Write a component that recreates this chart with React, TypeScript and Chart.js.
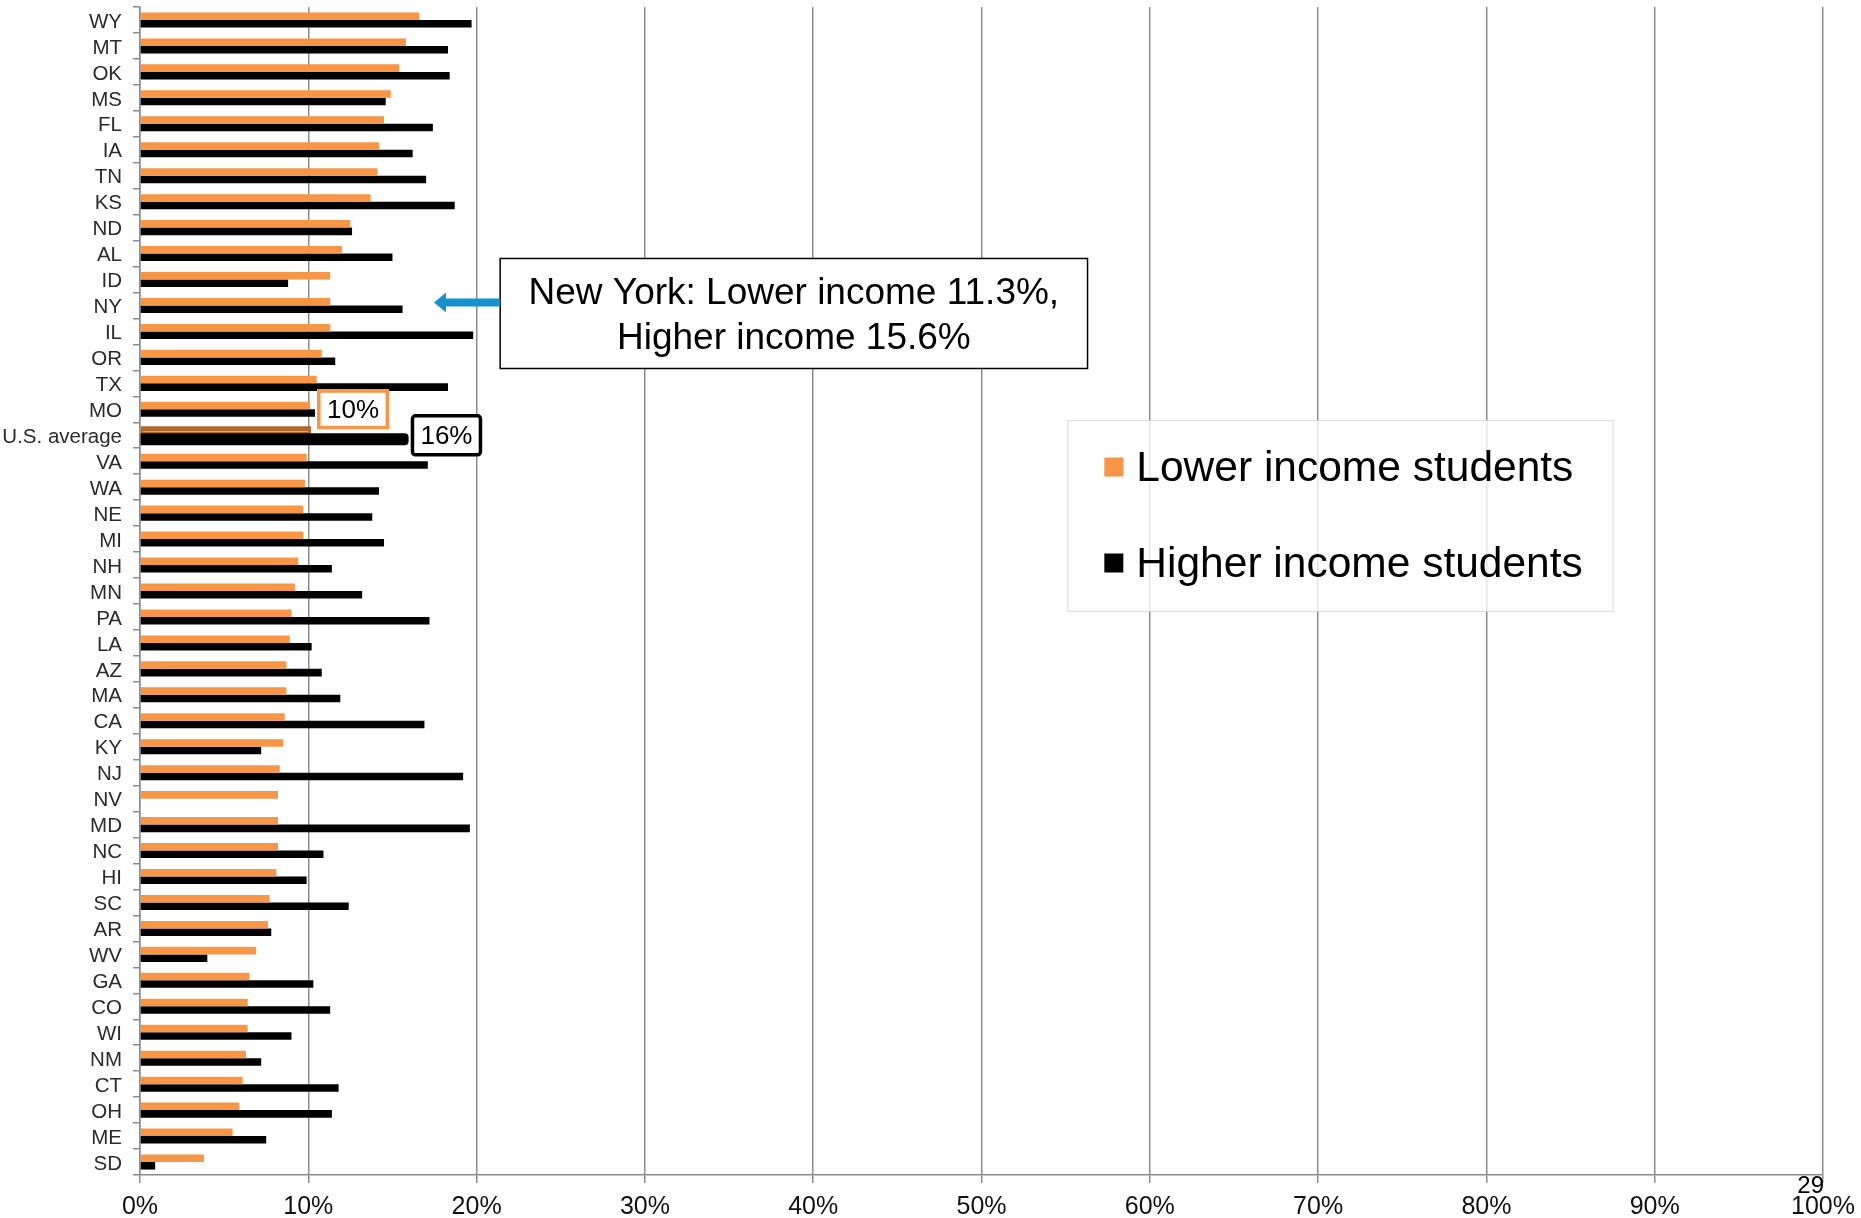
import React, { useEffect, useRef } from "react";
import { Chart, registerables } from "chart.js";

Chart.register(...registerables);

const FONT = "'Liberation Sans', Arial, sans-serif";

const states = [
  "WY", "MT", "OK", "MS", "FL", "IA", "TN", "KS", "ND", "AL", "ID", "NY", "IL", "OR", "TX", "MO",
  "U.S. average", "VA", "WA", "NE", "MI", "NH", "MN", "PA", "LA", "AZ", "MA", "CA", "KY", "NJ", "NV",
  "MD", "NC", "HI", "SC", "AR", "WV", "GA", "CO", "WI", "NM", "CT", "OH", "ME", "SD",
];

const lowerIncome = [
  16.6, 15.8, 15.4, 14.9, 14.5, 14.2, 14.1, 13.7, 12.5, 12.0, 11.3, 11.3, 11.3, 10.8, 10.5, 10.1,
  10.1, 9.9, 9.8, 9.7, 9.7, 9.4, 9.2, 9.0, 8.9, 8.7, 8.7, 8.6, 8.5, 8.3, 8.2,
  8.2, 8.2, 8.1, 7.7, 7.6, 6.9, 6.5, 6.4, 6.4, 6.3, 6.1, 5.9, 5.5, 3.8,
];

const higherIncome = [
  19.7, 18.3, 18.4, 14.6, 17.4, 16.2, 17.0, 18.7, 12.6, 15.0, 8.8, 15.6, 19.8, 11.6, 18.3, 10.4,
  15.9, 17.1, 14.2, 13.8, 14.5, 11.4, 13.2, 17.2, 10.2, 10.8, 11.9, 16.9, 7.2, 19.2, null,
  19.6, 10.9, 9.9, 12.4, 7.8, 4.0, 10.3, 11.3, 9.0, 7.2, 11.8, 11.4, 7.5, 0.9,
];

const seriesNames = ["Lower income students", "Higher income students"];
const seriesColors = ["#f79646", "#000000"];

const calloutLines = ["New York: Lower income 11.3%,", "Higher income 15.6%"];
const usLowerLabel = "10%";
const usHigherLabel = "16%";
const pageNumber = "29";

const overlayPlugin = {
  id: "overlay",
  afterDatasetsDraw(chart: any) {
    const ctx = chart.ctx;
    const usIdx = states.indexOf("U.S. average");
    const o = chart.getDatasetMeta(0).data[usIdx].getProps(["x", "y", "base", "height"], true);
    const b = chart.getDatasetMeta(1).data[usIdx].getProps(["x", "y", "base", "height"], true);
    ctx.save();
    ctx.fillStyle = "#b0682d";
    ctx.fillRect(o.base, o.y - o.height / 2 - 1.5, o.x - o.base + 1, o.height + 2.5);
    ctx.strokeStyle = "#f0a060";
    ctx.lineWidth = 1;
    ctx.beginPath();
    ctx.moveTo(o.base + 2, o.y);
    ctx.lineTo(o.x - 2, o.y);
    ctx.stroke();
    ctx.fillStyle = "#000";
    ctx.beginPath();
    (ctx as any).roundRect(b.base, b.y - b.height / 2 - 2, b.x - b.base + 1, b.height + 4.5, [0, 4, 4, 0]);
    ctx.fill();
    ctx.restore();
  },
  afterDraw(chart: any) {
    const ctx = chart.ctx;
    const xs = chart.scales.x;
    const ys = chart.scales.y;
    const ca = chart.chartArea;
    ctx.save();

    // Legend box
    const lx1 = xs.getPixelForValue(55.1);
    const lx2 = xs.getPixelForValue(87.5);
    const ly1 = ca.top + ca.height * 0.3536;
    const ly2 = ca.top + ca.height * 0.517;
    ctx.fillStyle = "rgba(255,255,255,0.78)";
    ctx.fillRect(lx1, ly1, lx2 - lx1, ly2 - ly1);
    ctx.strokeStyle = "#d9d9d9";
    ctx.lineWidth = 1;
    ctx.strokeRect(lx1 + 0.5, ly1 + 0.5, lx2 - lx1, ly2 - ly1);
    ctx.font = `42.5px ${FONT}`;
    ctx.textBaseline = "middle";
    ctx.textAlign = "left";
    seriesNames.forEach((name, i) => {
      const cy = ly1 + 47 + i * 96;
      ctx.fillStyle = seriesColors[i];
      ctx.fillRect(lx1 + 37, cy - 9.5, 19, 19);
      ctx.fillStyle = "#000";
      ctx.fillText(name, lx1 + 69, cy + 2);
    });

    // New York callout
    const nyY = ys.getPixelForValue(states.indexOf("NY"));
    const bx1 = xs.getPixelForValue(21.4);
    const bx2 = xs.getPixelForValue(56.3);
    const by1 = nyY - 47;
    const by2 = nyY + 63;
    ctx.fillStyle = "#fff";
    ctx.fillRect(bx1, by1, bx2 - bx1, by2 - by1);
    ctx.strokeStyle = "#000";
    ctx.lineWidth = 1.5;
    ctx.strokeRect(bx1, by1, bx2 - bx1, by2 - by1);
    ctx.fillStyle = "#000";
    ctx.font = `37px ${FONT}`;
    ctx.textAlign = "center";
    ctx.fillText(calloutLines[0], (bx1 + bx2) / 2, nyY - 12);
    ctx.fillText(calloutLines[1], (bx1 + bx2) / 2, nyY + 33);

    // arrow
    const tipX = xs.getPixelForValue(17.47);
    const ay = nyY - 3;
    ctx.fillStyle = "#1591d0";
    ctx.fillRect(tipX + 10, ay - 4, bx1 - tipX - 10, 8);
    ctx.beginPath();
    ctx.moveTo(tipX, ay);
    ctx.lineTo(tipX + 12, ay - 10);
    ctx.lineTo(tipX + 12, ay + 10);
    ctx.closePath();
    ctx.fill();

    // 10% label
    const moY = ys.getPixelForValue(states.indexOf("MO"));
    const t1x = xs.getPixelForValue(10.52);
    ctx.fillStyle = "#fff";
    ctx.fillRect(t1x, moY - 20, 72, 40);
    ctx.strokeStyle = "#f79646";
    ctx.lineWidth = 3.5;
    ctx.strokeRect(t1x + 1.75, moY - 18.25, 68.5, 36.5);
    ctx.fillStyle = "#000";
    ctx.font = `26px ${FONT}`;
    ctx.fillText(usLowerLabel, t1x + 36, moY + 2);

    // 16% label
    const usY = ys.getPixelForValue(states.indexOf("U.S. average"));
    const t2x = xs.getPixelForValue(16.1);
    ctx.fillStyle = "#fff";
    ctx.beginPath();
    (ctx as any).roundRect(t2x + 1.5, usY - 19.5, 68, 39, 3);
    ctx.fill();
    ctx.strokeStyle = "#000";
    ctx.lineWidth = 3.5;
    ctx.stroke();
    ctx.fillStyle = "#000";
    ctx.fillText(usHigherLabel, t2x + 35.5, usY + 2);

    // page number
    ctx.font = `24px ${FONT}`;
    ctx.textAlign = "right";
    ctx.fillText(pageNumber, ca.right + 1, ca.bottom + 11);

    ctx.restore();
  },
};

export default function App() {
  const canvasRef = useRef<HTMLCanvasElement | null>(null);

  useEffect(() => {
    if (!canvasRef.current) return;
    const chart = new Chart(canvasRef.current, {
      type: "bar",
      data: {
        labels: states,
        datasets: [
          {
            label: seriesNames[0],
            data: lowerIncome,
            backgroundColor: seriesColors[0],
            categoryPercentage: 0.58,
            barPercentage: 1.0,
          },
          {
            label: seriesNames[1],
            data: higherIncome as any,
            backgroundColor: seriesColors[1],
            categoryPercentage: 0.58,
            barPercentage: 1.0,
          },
        ],
      },
      options: {
        animation: false,
        responsive: false,
        devicePixelRatio: 1,
        indexAxis: "y",
        layout: { padding: { top: 7, right: 38, left: 0, bottom: 0 } },
        plugins: {
          legend: { display: false },
          tooltip: { enabled: false },
        },
        scales: {
          x: {
            min: 0,
            max: 100,
            ticks: {
              stepSize: 10,
              callback: (v: any) => `${v}%`,
              font: { size: 25, family: FONT },
              color: "#111",
              padding: 9,
              maxRotation: 0,
            },
            grid: { color: "#8c8c8c", lineWidth: 1.5, tickLength: 8 },
            border: { color: "#8c8c8c", width: 1.5 },
            afterFit: (s: any) => {
              s.height = 43;
              s.paddingLeft = 0;
              s.paddingRight = 0;
            },
          },
          y: {
            ticks: {
              font: { size: 20.5, family: FONT },
              color: "#2b2b2b",
              padding: 11,
              autoSkip: false,
              labelOffset: 2,
            },
            grid: { drawOnChartArea: false, color: "#8c8c8c", lineWidth: 1.5, tickLength: 7 },
            border: { color: "#8c8c8c", width: 1.5 },
            afterFit: (s: any) => {
              s.width = 140;
              s.paddingTop = 0;
              s.paddingBottom = 0;
            },
          },
        },
      } as any,
      plugins: [overlayPlugin],
    });
    return () => chart.destroy();
  }, []);

  return (
    <div style={{ position: "absolute", left: 0, top: 0, width: 1861, height: 1218, background: "#fff" }}>
      <canvas ref={canvasRef} width={1861} height={1218} style={{ display: "block" }} />
    </div>
  );
}
